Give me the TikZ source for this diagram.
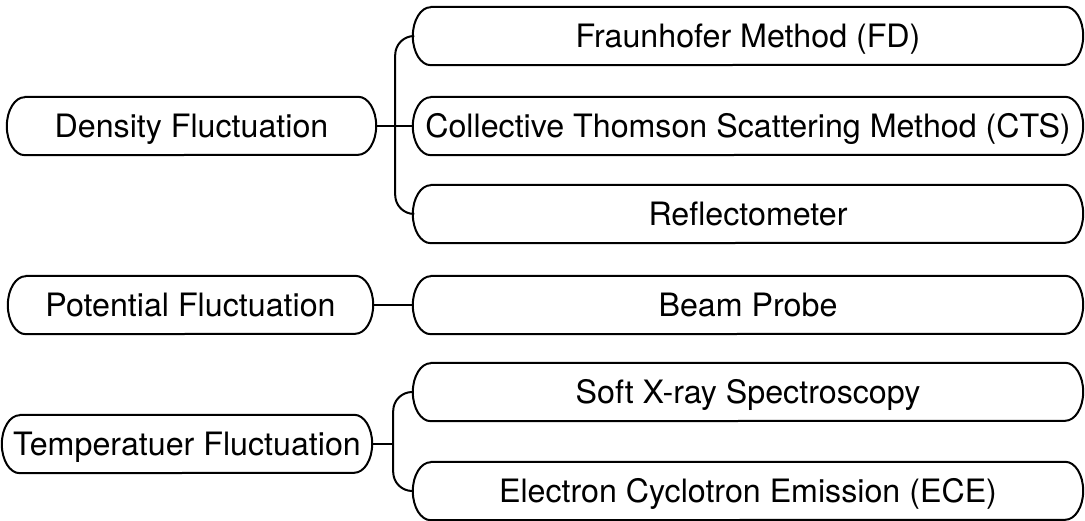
\documentclass[tikz,border=0pt]{standalone}
\usepackage{fontspec}
\setmainfont{TeX Gyre Heros}
\usetikzlibrary{calc}

\tikzset{
  box/.style={inner sep=0pt, minimum height=58pt, text height=23pt, text depth=0pt,
              font=\fontsize{32.2}{37}\selectfont},
  leftbox/.style={box},
  rightbox/.style={box, minimum width=670pt},
  outline/.style={line width=2pt, line join=round},
  link/.style={line width=2pt, rounded corners=19pt}
}

\begin{document}
\begin{tikzpicture}[x=1pt,y=1pt]
\useasboundingbox (0,0) rectangle (1085,521);

% categories
\node[leftbox, minimum width=369pt] (D) at (191.5,395) {Density Fluctuation};
\node[leftbox, minimum width=365pt] (P) at (190.5,216) {Potential Fluctuation};
\node[leftbox, minimum width=370pt] (T) at (187,77) {Temperatuer Fluctuation};

% methods
\node[rightbox] (FD)  at (748,485) {Fraunhofer Method (FD)};
\node[rightbox] (CTS) at (748,395) {Collective Thomson Scattering Method (CTS)};
\node[rightbox] (R)   at (748,307) {Reflectometer};
\node[rightbox] (BP)  at (748,216) {Beam Probe};
\node[rightbox] (SX)  at (748,129) {Soft X-ray Spectroscopy};
\node[rightbox] (ECE) at (748,30)  {Electron Cyclotron Emission (ECE)};

% capsule outlines with elliptic ends
\foreach \n in {D,P,T,FD,CTS,R,BP,SX,ECE}{
  \draw[outline]
    ($(\n.north west)+(18,0)$) -- ($(\n.north east)+(-18,0)$)
    arc[start angle=90, end angle=-90, x radius=18pt, y radius=29pt]
    -- ($(\n.south west)+(18,0)$)
    arc[start angle=270, end angle=90, x radius=18pt, y radius=29pt]
    -- cycle;
}

% branch buses
\coordinate (busD) at ($(D.east)+(19,0)$);
\draw[link] (FD.west) -| (busD) |- (R.west);
\draw[link] (D.east) -- (CTS.west);

\draw[link] (P.east) -- (BP.west);

\coordinate (busT) at ($(T.east)+(21,0)$);
\draw[link] (SX.west) -| (busT) |- (ECE.west);
\draw[link] (T.east) -- (busT);
\end{tikzpicture}
\end{document}
